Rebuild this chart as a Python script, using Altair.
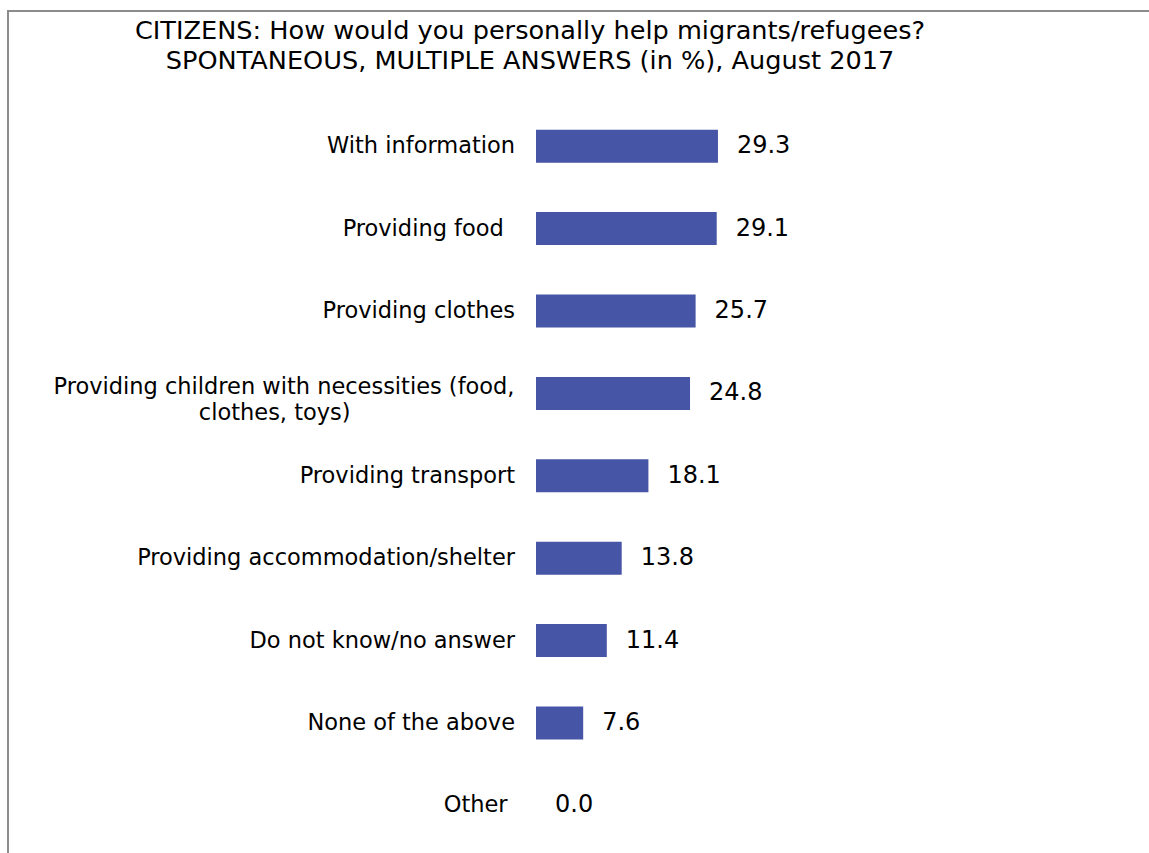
import altair as alt
import pandas as pd

categories = [
    "With information",
    "Providing food\u2002\u200b",
    "Providing clothes",
    "Providing children with necessities (food,\nclothes, toys)\u2002\u2004\u200b",
    "Providing transport",
    "Providing accommodation/shelter",
    "Do not know/no answer",
    "None of the above",
    "Other\u2004\u200b",
]
values = [29.3, 29.1, 25.7, 24.8, 18.1, 13.8, 11.4, 7.6, 0.0]
title_text = ("CITIZENS: How would you personally help migrants/refugees?\n"
              "SPONTANEOUS, MULTIPLE ANSWERS (in %), August 2017")

df = pd.DataFrame({
    "category": categories,
    "value": values,
    "multi": ["\n" in c for c in categories],
})

FONT = "DejaVu Sans"
BAR = "#4755a6"
FRAME = "#8c8c8c"

y = alt.Y("category:N", sort=categories, axis=None,
          scale=alt.Scale(paddingInner=0.6, paddingOuter=0.3))
x = alt.X("value:Q", axis=None, scale=alt.Scale(domain=[0, 95], nice=False, zero=True))

frame_left = alt.Chart(alt.Data(values=[{}])).mark_rule(color=FRAME, strokeWidth=2).encode(
    x=alt.value(-528), y=alt.value(-94), y2=alt.value(800))
frame_top = alt.Chart(alt.Data(values=[{}])).mark_rule(color=FRAME, strokeWidth=2).encode(
    x=alt.value(-529), x2=alt.value(700), y=alt.value(-94))

title = alt.Chart(alt.Data(values=[{"t": title_text}])).mark_text(
    align="center", baseline="middle", fontSize=25.6, font=FONT, color="#000000",
    lineBreak="\n", lineHeight=30.5
).encode(x=alt.value(-6), y=alt.value(-74), text="t:N")

bars = alt.Chart().mark_bar(color=BAR).encode(x=x, y=y)

value_text = alt.Chart().mark_text(
    align="left", baseline="middle", dx=19, fontSize=24, font=FONT, color="#000000"
).encode(x=x, y=y, text=alt.Text("value:Q", format=".1f"))

labels_single = alt.Chart().transform_filter("!datum.multi").mark_text(
    align="right", baseline="middle", fontSize=22.5, font=FONT, color="#000000"
).encode(x=alt.value(-21), y=y, text="category:N")

labels_multi = alt.Chart().transform_filter("datum.multi").mark_text(
    align="center", baseline="middle", fontSize=22.5, font=FONT, color="#000000",
    lineBreak="\n", lineHeight=25.5, dy=-6
).encode(x=alt.value(-252), y=y, text="category:N")

chart = alt.layer(
    frame_left, frame_top, title, bars, value_text, labels_single, labels_multi, data=df
).properties(
    width=590,
    height=741.6,
    padding={"left": 536, "top": 105, "right": 23, "bottom": 6},
    autosize=alt.AutoSizeParams(type="none"),
).configure_view(strokeWidth=0)

chart.save("out.html", embed_options={"renderer": "svg", "actions": False})
